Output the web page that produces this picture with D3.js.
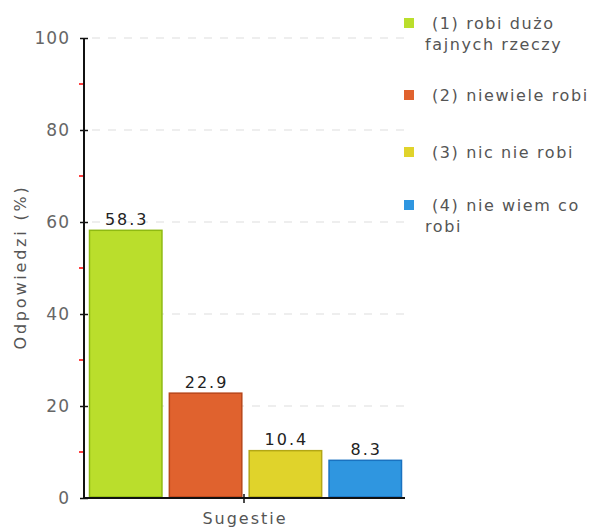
<!DOCTYPE html>
<html><head><meta charset="utf-8">
<script src="https://cdn.jsdelivr.net/npm/d3@7/dist/d3.min.js"></script>
<style>body{margin:0;background:#fff}svg{display:block}text{font-family:"DejaVu Sans",Verdana,sans-serif}</style>
</head><body>
<script>
const categories = ["(1) robi dużo fajnych rzeczy","(2) niewiele robi","(3) nic nie robi","(4) nie wiem co robi"];
const legendLines = [["(1) robi dużo","fajnych rzeczy"],["(2) niewiele robi"],["(3) nic nie robi"],["(4) nie wiem co","robi"]];
const values = [58.3, 22.9, 10.4, 8.3];
const fills = ["#bade2c","#e0622e","#e0d32b","#2f96e0"];
const strokes = ["#8fba12","#b8461a","#b3a715","#1a72c0"];
const yTicks = [0,20,40,60,80,100];
const yMinor = [10,30,50,70,90];
const xLabel = "Sugestie";
const yLabel = "Odpowiedzi (%)";

const W=598,H=527;
const svg=d3.select("body").append("svg").attr("width",W).attr("height",H);
const x0=84, x1=408, yTop=38, yBot=498;
const y=d3.scaleLinear().domain([0,100]).range([yBot,yTop]);
const x=d3.scaleBand().domain(categories).range([89,402]).paddingInner(0.08).paddingOuter(0);

// grid
svg.append("g").selectAll("line").data(yTicks.filter(d=>d>0)).join("line")
 .attr("x1",x0+8).attr("x2",x1).attr("y1",d=>y(d)).attr("y2",d=>y(d))
 .attr("stroke","#ddd").attr("stroke-dasharray","8,8");

// bars
svg.append("g").selectAll("rect").data(values).join("rect")
 .attr("x",(d,i)=>x(categories[i])+0.5).attr("width",x.bandwidth()-1)
 .attr("y",d=>y(d)+0.5).attr("height",d=>yBot-y(d)-1.5)
 .attr("fill",(d,i)=>fills[i]).attr("stroke",(d,i)=>strokes[i]).attr("stroke-width",1.5);

// value labels
svg.append("g").selectAll("text").data(values).join("text")
 .attr("x",(d,i)=>x(categories[i])+x.bandwidth()/2+1).attr("y",d=>y(d)-5)
 .attr("text-anchor","middle").attr("font-size",16).attr("letter-spacing",2).attr("fill","#222")
 .text(d=>d.toFixed(1));

// y axis
const ya=svg.append("g").attr("transform",`translate(${x0},0)`)
 .call(d3.axisLeft(y).tickValues(yTicks).tickSize(4).tickPadding(10).tickFormat(d3.format("d")));
ya.select(".domain").remove();
ya.selectAll(".tick line").attr("x1",-4).attr("x2",4).attr("stroke","#111").attr("stroke-width",1.5);
ya.selectAll(".tick text").attr("font-size",17).attr("letter-spacing",1).attr("fill","#666").attr("font-family","DejaVu Sans");
svg.append("g").selectAll("line").data(yMinor).join("line")
 .attr("x1",x0-5).attr("x2",x0).attr("y1",d=>y(d)).attr("y2",d=>y(d)).attr("stroke","#f00").attr("stroke-width",1.5);
svg.append("line").attr("x1",x0).attr("x2",x0).attr("y1",yTop).attr("y2",yBot+1).attr("stroke","#111").attr("stroke-width",2);

// x axis
svg.append("line").attr("x1",x0).attr("x2",405).attr("y1",yBot).attr("y2",yBot).attr("stroke","#111").attr("stroke-width",2);
const xc=244;
svg.append("line").attr("x1",xc).attr("x2",xc).attr("y1",yBot-4).attr("y2",yBot+5).attr("stroke","#111").attr("stroke-width",1.5);
svg.append("text").attr("x",xc+1).attr("y",524).attr("text-anchor","middle").attr("font-size",16).attr("letter-spacing",2).attr("fill","#555").text(xLabel);
svg.append("text").attr("transform",`translate(26,267) rotate(-90)`).attr("text-anchor","middle").attr("font-size",16).attr("letter-spacing",2.8).attr("fill","#555").text(yLabel);

// legend
const legY=[29,101,158,211];
const lg=svg.append("g").selectAll("g").data(legendLines).join("g");
lg.append("rect").attr("x",404).attr("y",(d,i)=>legY[i]-11).attr("width",10).attr("height",10).attr("fill",(d,i)=>fills[i]);
lg.each(function(lines,i){
  const t=d3.select(this).append("text").attr("font-size",16).attr("letter-spacing",1.6).attr("fill","#555");
  lines.forEach((l,j)=>t.append("tspan").attr("x",j===0?432:425).attr("y",legY[i]+j*21).text(l));
});
</script>
</body></html>
